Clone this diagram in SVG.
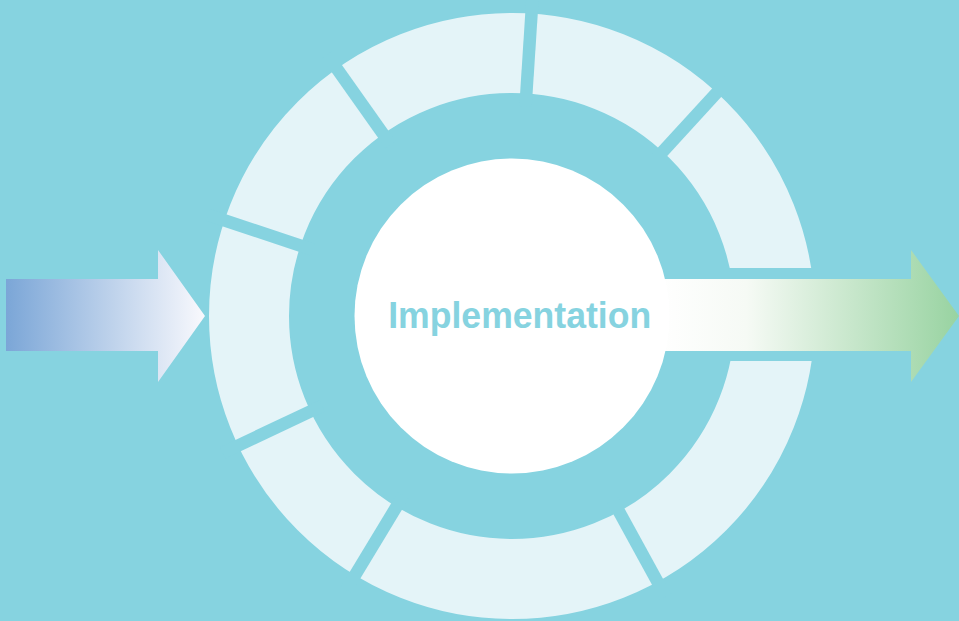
<svg xmlns="http://www.w3.org/2000/svg" width="959" height="621" viewBox="0 0 959 621">
  <defs>
    <linearGradient id="gIn" gradientUnits="userSpaceOnUse" x1="6" y1="0" x2="205" y2="0">
      <stop offset="0" stop-color="#7BA6D7"/>
      <stop offset="1" stop-color="#F9F9FD"/>
    </linearGradient>
    <linearGradient id="gOut" gradientUnits="userSpaceOnUse" x1="655" y1="0" x2="959" y2="0">
      <stop offset="0" stop-color="#FFFFFF"/>
      <stop offset="0.3" stop-color="#F6FAF5"/>
      <stop offset="1" stop-color="#98D3A1"/>
    </linearGradient>
    <style>
      .gap { stroke: #86D3E0; stroke-width: 12.5; }
      .seg { fill: none; stroke: #E4F4F8; stroke-width: 80; }
      .label { font-family: "Liberation Sans", Arial, sans-serif; font-weight: bold; font-size: 37px; fill: #86D3E0; }
    </style>
  </defs>
  <rect x="0" y="0" width="959" height="621" fill="#86D3E0"/>
  <g id="ring">
    <circle class="seg" cx="512" cy="316" r="263"/>
    <line class="gap" x1="525.5" y1="106.4" x2="532.6" y2="-3.3"/>
    <line class="gap" x1="653.9" y1="161.2" x2="728.2" y2="80.1"/>
    <line class="gap" x1="612.8" y1="500.2" x2="665.7" y2="596.7"/>
    <line class="gap" x1="403.2" y1="495.6" x2="346.2" y2="589.7"/>
    <line class="gap" x1="322.1" y1="405.8" x2="222.7" y2="452.8"/>
    <line class="gap" x1="312.7" y1="249.7" x2="208.4" y2="215.0"/>
    <line class="gap" x1="390.6" y1="144.6" x2="327.1" y2="54.8"/>
    <rect x="660" y="268" width="180" height="93" fill="#86D3E0"/>
  </g>
  <g id="arrow-in">
    <polygon points="6,279 158,279 158,250 205,316 158,382 158,351 6,351" fill="url(#gIn)"/>
  </g>
  <g id="arrow-out">
    <polygon points="655,279 911,279 911,250 959,316 911,382 911,351 655,351" fill="url(#gOut)"/>
  </g>
  <g id="center">
    <circle cx="512" cy="316" r="157.5" fill="#FFFFFF"/>
    <text class="label" x="519.7" y="327.7" text-anchor="middle" textLength="263" lengthAdjust="spacingAndGlyphs">Implementation</text>
  </g>
</svg>
